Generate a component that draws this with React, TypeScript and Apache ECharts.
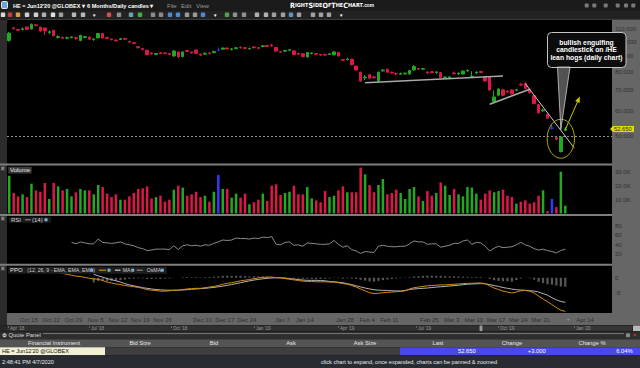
import React, { useEffect, useRef } from 'react';
import * as echarts from 'echarts';

const FONT = '"Liberation Sans", Arial, sans-serif';

// ---------------- categories ----------------
const FIRST_SESSION = '2019-10-08';
const HOLIDAYS = ['2019-11-28', '2019-12-25', '2020-01-01', '2020-01-20', '2020-02-17'];
const SESSION_COUNT = 136;
const MONTHS = ['Jan', 'Feb', 'Mar', 'Apr', 'May', 'Jun', 'Jul', 'Aug', 'Sep', 'Oct', 'Nov', 'Dec'];
const LABELED_DATES = ['Oct 15', 'Oct 22', 'Oct 29', 'Nov 5', 'Nov 12', 'Nov 19', 'Nov 26', 'Dec 10', 'Dec 17', 'Dec 24',
  'Jan 7', 'Jan 14', 'Jan 28', 'Feb 4', 'Feb 11', 'Feb 25', 'Mar 3', 'Mar 10', 'Mar 17', 'Mar 24', 'Mar 31', 'Apr 14'];

// ---------------- daily candles (HE Jun'20) ----------------
const OPEN = [101.0, 110.8, 109.6, 109.6, 111.6, 110.0, 113.4, 111.6, 110.8, 107.2,
  109.0, 103.4, 103.4, 102.8, 103.2, 103.2, 101.0, 103.4, 103.6, 101.8,
  103.0, 106.5, 103.4, 102.2, 101.4, 101.8, 102.6, 100.4, 99.4, 96.6,
  95.2, 94.0, 92.2, 91.2, 92.4, 92.2, 91.8, 90.2, 92.9, 89.7,
  93.8, 92.8, 94.2, 91.4, 91.4, 92.2, 92.4, 94.2, 94.8, 95.6,
  94.6, 95.2, 96.2, 95.8, 95.0, 96.4, 95.8, 96.6, 97.4, 97.8,
  96.0, 93.2, 93.4, 94.0, 93.6, 91.8, 91.6, 89.5, 91.8, 91.8,
  91.2, 91.2, 91.2, 91.0, 92.5, 87.8, 87.8, 88.0, 83.7, 80.0,
  76.8, 78.5, 77.3, 75.0, 80.8, 81.8, 80.0, 79.3, 78.8, 79.0,
  79.0, 81.3, 82.2, 81.8, 80.0, 80.3, 79.8, 79.8, 76.8, 76.8,
  79.5, 79.0, 79.0, 80.7, 77.2, 79.6, 80.4, 77.4, 77.4, 64.5,
  67.5, 70.2, 69.6, 70.2, 70.0, 73.2, 73.5, 70.5, 67.3, 63.0,
  60.2, 58.6, 53.0, 49.4, 44.6, 52.1];
const HIGH = [107.8, 111.6, 110.2, 111.2, 112.0, 114.4, 114.2, 112.0, 111.2, 108.8,
  109.4, 105.0, 104.0, 104.0, 104.2, 103.6, 105.4, 104.6, 104.2, 102.8,
  106.8, 106.9, 103.8, 102.6, 101.8, 103.0, 103.0, 100.8, 99.8, 97.0,
  95.8, 94.4, 92.8, 92.2, 92.8, 92.6, 92.4, 94.2, 93.4, 93.2,
  94.2, 93.2, 94.6, 91.8, 92.4, 92.8, 93.8, 96.0, 96.0, 96.0,
  95.6, 96.2, 96.8, 96.2, 95.8, 96.8, 96.2, 97.6, 97.8, 98.6,
  96.4, 93.6, 94.4, 95.0, 94.0, 92.4, 92.0, 92.8, 92.6, 92.2,
  91.6, 91.8, 92.0, 93.4, 92.9, 88.2, 89.0, 88.4, 84.0, 80.4,
  78.4, 78.9, 77.8, 80.4, 81.8, 82.2, 80.4, 79.8, 79.8, 79.8,
  81.4, 84.4, 82.6, 82.6, 80.6, 80.6, 80.6, 80.2, 77.8, 77.6,
  80.4, 79.8, 81.0, 81.6, 80.6, 80.4, 80.8, 77.8, 77.8, 70.0,
  71.0, 70.8, 70.0, 70.6, 70.8, 73.8, 74.4, 71.0, 67.6, 63.3,
  61.2, 58.9, 54.5, 49.8, 49.9, 53.4];
const LOW = [100.2, 109.5, 108.4, 108.8, 109.2, 109.8, 112.2, 108.0, 105.2, 105.8,
  104.2, 102.6, 102.2, 102.0, 102.6, 101.6, 100.6, 102.8, 101.6, 100.8,
  102.8, 102.6, 102.2, 101.2, 100.4, 101.4, 101.6, 99.4, 98.4, 95.4,
  94.0, 90.6, 91.0, 90.8, 91.4, 91.4, 90.6, 89.6, 88.8, 89.4,
  92.8, 91.8, 91.6, 90.0, 91.0, 91.2, 92.0, 93.4, 94.4, 94.6,
  94.0, 94.8, 95.2, 94.8, 94.6, 95.4, 94.8, 96.2, 96.4, 96.6,
  93.0, 92.2, 93.0, 93.6, 90.8, 91.0, 89.4, 89.2, 91.2, 91.0,
  90.2, 90.4, 90.8, 90.6, 89.8, 87.0, 87.2, 84.2, 81.0, 74.6,
  75.6, 76.0, 76.4, 74.6, 80.4, 79.6, 79.2, 78.4, 78.4, 78.8,
  78.6, 81.0, 81.4, 81.4, 79.2, 79.4, 79.0, 76.6, 76.4, 76.6,
  78.8, 78.6, 78.6, 80.4, 76.8, 79.2, 79.4, 74.6, 69.8, 64.0,
  67.0, 67.0, 68.8, 67.8, 69.6, 72.4, 70.6, 68.4, 63.2, 59.0,
  59.8, 56.7, 52.4, 48.4, 44.3, 51.8];
const CLOSE = [106.6, 110.3, 109.0, 110.2, 109.6, 114.0, 112.8, 108.4, 108.4, 107.8,
  104.6, 104.0, 102.8, 103.2, 103.8, 102.6, 105.0, 104.0, 102.0, 102.2,
  106.5, 103.0, 102.8, 101.6, 100.8, 102.4, 102.0, 99.8, 98.8, 95.8,
  94.6, 91.0, 91.6, 91.8, 91.8, 91.8, 91.2, 93.5, 89.7, 92.9,
  93.2, 92.2, 92.0, 90.8, 92.0, 91.8, 93.2, 94.2, 95.6, 95.0,
  95.0, 95.8, 95.8, 95.4, 95.4, 95.8, 95.4, 97.2, 96.8, 97.2,
  93.5, 92.8, 93.9, 94.4, 91.0, 91.4, 89.7, 92.5, 92.2, 91.4,
  90.8, 90.8, 91.6, 92.9, 90.2, 87.4, 88.2, 84.6, 81.3, 75.0,
  77.2, 76.5, 76.8, 80.0, 81.3, 80.0, 79.6, 79.0, 79.2, 79.4,
  81.0, 83.4, 81.8, 82.2, 79.6, 79.8, 80.2, 77.0, 77.2, 77.3,
  79.1, 79.5, 80.7, 81.2, 77.6, 80.1, 79.8, 75.0, 70.2, 66.7,
  70.7, 67.5, 69.2, 68.2, 70.3, 72.8, 71.0, 68.8, 63.5, 59.3,
  60.6, 57.0, 53.0, 48.8, 49.65, 52.65];
const UNCHANGED_SESSIONS = [47, 122];

// volume in thousands of contracts
const VOLUME_K = [27.6, 15, 12.5, 14, 12, 21.8, 16.9, 15.9, 22.3, 10.6,
  22.3, 19.8, 16.9, 17.9, 12.5, 15.5, 17.9, 16.9, 16.9, 14,
  20.8, 19.3, 14.5, 12, 14, 10.1, 10.1, 12.5, 15, 17.9,
  18.4, 19.8, 11, 12, 13, 8.6, 10.1, 17.4, 20.3, 18.9,
  13, 14, 15.9, 12, 13, 8.6, 15.9, 28.1, 17.9, 17.9,
  11.6, 14.5, 11.6, 14.5, 6.7, 8.2, 10.1, 14.5, 9.1, 20.3,
  21.3, 13.5, 15, 15.9, 20.3, 14, 14, 19.3, 11, 9.6,
  8.2, 16.4, 12, 13, 16.9, 19.8, 15.5, 15.5, 15.5, 33.5,
  28.6, 20.8, 15.5, 20.8, 25.2, 14, 15, 17.4, 15, 10.6,
  17.9, 19.3, 12.5, 9.1, 16.4, 13, 15, 22.7, 20.3, 13.5,
  17.9, 14, 12.5, 19.3, 18.9, 14.5, 10.1, 14.5, 16.9, 15.5,
  16.4, 17.4, 13, 12, 7.2, 8.6, 9.6, 7.2, 8.2, 13,
  16.9, 1.8, 10.6, 4.7, 30.5, 5.7];

// RSI(14), from session 14
const RSI_START = 14;
const RSI_14 = [45, 42, 46, 44, 42, 42, 52, 45, 44, 43, 44, 46, 42, 40, 38, 34, 32, 28, 29, 31,
  31, 31, 30, 38, 30, 38, 40, 38, 39, 37, 40, 39, 43, 46, 50, 49, 50, 54, 53, 53,
  52, 54, 53, 56, 55, 57, 41, 40, 45, 46, 39, 40, 37, 44, 43, 42, 41, 41, 42, 49,
  41, 35, 38, 30, 27, 22, 26, 25, 24, 37, 39, 37, 36, 36, 37, 37, 42, 48, 46, 46,
  41, 42, 42, 35, 37, 39, 43, 43, 48, 50, 41, 45, 44, 37, 27, 33, 37, 34, 35, 36,
  40, 45, 40, 37, 32, 29, 31, 28, 26, 23, 28, 31];

// PPO (12, 26, 9)
const PPO_START = 11;
const PPO_LINE = [1.7, 1.4, 1.1, 0.8, 0.5, 0.4, 0.1, -0.2, -0.4, -0.5,
  -0.9, -1.4, -1.7, -2.0, -2.2, -2.5, -2.7, -2.9, -3.1, -3.4,
  -3.8, -4.0, -4.1, -4.3, -4.3, -4.2, -4.0, -4.0, -3.8, -3.6,
  -3.5, -3.4, -3.4, -3.2, -3.0, -2.8, -2.5, -2.1, -1.8, -1.6,
  -1.3, -1.0, -0.8, -0.6, -0.3, -0.1, 0.1, 0.2, 0.2, 0.0,
  -0.1, -0.3, -0.5, -0.7, -0.9, -1.1, -1.2, -1.2, -1.3, -1.3,
  -1.3, -1.4, -1.4, -1.6, -1.9, -2.1, -2.5, -3.0, -3.6, -4.2,
  -4.8, -5.1, -5.0, -4.8, -4.7, -4.6, -4.5, -4.4, -4.2, -3.6,
  -3.2, -3.0, -2.8, -2.6, -2.5, -2.4, -2.3, -2.3, -2.2, -2.1,
  -2.0, -1.9, -1.8, -1.8, -1.7, -1.7, -1.9, -2.6, -3.3, -3.8,
  -4.3, -4.6, -4.9, -4.6, -4.2, -4.1, -4.3, -4.9, -5.9, -6.8,
  -7.7, -8.6, -9.6, -10.4, -10.8];
const SIGNAL_START = 19;
const PPO_MA = [1.1, 0.6, 0.2, -0.3, -0.6, -1.0, -1.4, -1.9, -2.3, -2.6,
  -2.9, -3.2, -3.4, -3.6, -3.8, -3.9, -4.0, -4.0, -4.05, -4.0,
  -3.95, -3.85, -3.7, -3.6, -3.5, -3.4, -3.25, -3.1, -2.9, -2.7,
  -2.45, -2.2, -1.9, -1.6, -1.3, -1.0, -0.75, -0.55, -0.35, -0.2,
  -0.1, 0.0, 0.0, -0.1, -0.3, -0.45, -0.6, -0.75, -0.85, -0.85,
  -0.85, -0.9, -1.0, -1.2, -1.3, -1.45, -1.6, -1.9, -2.2, -2.6,
  -2.95, -3.3, -3.6, -3.85, -4.0, -4.05, -4.1, -4.2, -4.25, -4.25,
  -4.1, -3.8, -3.6, -3.5, -3.4, -3.3, -3.15, -3.0, -2.9, -2.8,
  -2.65, -2.55, -2.4, -2.25, -2.1, -2.0, -1.95, -1.9, -1.95, -2.2,
  -2.5, -2.8, -3.15, -3.4, -3.65, -3.85, -3.95, -4.05, -4.15, -4.3,
  -4.6, -5.1, -5.6, -6.4, -7.1, -7.6, -7.9];
const PPO_OSMA = [-1.5, -1.1, -1.1, -1.1, -1.1, -1.0, -0.8, -0.6, -0.4, -0.3,
  -0.2, -0.2, -0.4, -0.4, -0.3, -0.4, -0.3, -0.2, 0.05, 0.0,
  0.15, 0.25, 0.2, 0.2, 0.1, 0.2, 0.25, 0.3, 0.4, 0.6,
  0.65, 0.6, 0.6, 0.6, 0.5, 0.4, 0.45, 0.45, 0.45, 0.4,
  0.3, 0.0, -0.1, -0.2, -0.2, -0.25, -0.3, -0.35, -0.35, -0.35,
  -0.45, -0.4, -0.3, -0.2, -0.1, -0.15, -0.3, -0.2, -0.3, -0.4,
  -0.65, -0.9, -1.2, -1.25, -1.0, -0.75, -0.6, -0.4, -0.25, -0.15,
  -0.1, 0.2, 0.4, 0.5, 0.6, 0.7, 0.65, 0.6, 0.6, 0.5,
  0.45, 0.45, 0.4, 0.35, 0.3, 0.2, 0.25, 0.2, 0.05, -0.4,
  -0.8, -1.0, -1.15, -1.2, -1.25, -0.75, -0.25, -0.05, -0.15, -0.6,
  -1.3, -1.7, -2.1, -2.2, -2.5, -2.8, -2.9];

// ---------------- axes ----------------
const PRICE_TICKS = [50, 60, 70, 80, 90, 100, 110];
const PRICE_RANGE = [40.98, 116.68];
const VOLUME_TICKS = [10, 20, 30];
const VOLUME_MAX = 33.94;
const RSI_TICKS = [20, 40, 60, 80];
const PPO_TICKS = [-5, 0];
const PPO_RANGE = [-11.31, 3.75];
const LAST_PRICE = 52.65;
const SUPPORT_LEVEL = 50;

// ---------------- annotations (session index, price) ----------------
const TRENDLINES = [
  [80, 74.0, 111, 77.85],
  [108, 63.2, 117, 70.6],
  [116, 73.6, 127, 45.8],
];
const UP_ARROW = [125, 52.4, 128, 65.5];
const ELLIPSE_CENTER = [124, 49.0];
const CALLOUT_TIP = [124, 52.4];
const CALLOUT_LINES = ['bullish engulfing', 'candlestick on /HE', 'lean hogs (daily chart)'];

const UP = '#22a822';
const DOWN = '#dc1848';
const FLAT = '#3636ff';
const AXIS_BAND = '#666666';
const AXIS_TEXT = '#303030';

function buildSessions(): string[] {
  const out: string[] = [];
  const d = new Date(FIRST_SESSION + 'T00:00:00Z');
  while (out.length < SESSION_COUNT) {
    const dow = d.getUTCDay();
    const iso = d.toISOString().slice(0, 10);
    if (dow !== 0 && dow !== 6 && HOLIDAYS.indexOf(iso) < 0) {
      out.push(MONTHS[d.getUTCMonth()] + ' ' + d.getUTCDate());
    }
    d.setUTCDate(d.getUTCDate() + 1);
  }
  return out;
}

function pad(start: number, values: number[]) {
  const out: (number | null)[] = [];
  for (let i = 0; i < start; i++) out.push(null);
  return out.concat(values);
}

function sessionColor(i: number) {
  if (UNCHANGED_SESSIONS.indexOf(i) >= 0) return FLAT;
  return CLOSE[i] >= OPEN[i] ? UP : DOWN;
}

function buildOption() {
  const sessions = buildSessions();
  const L = Math.log;
  const candles = OPEN.map((o, i) => {
    const v = [L(o), L(CLOSE[i]), L(LOW[i]), L(HIGH[i])];
    if (UNCHANGED_SESSIONS.indexOf(i) >= 0) {
      return { value: v, itemStyle: { color: FLAT, color0: FLAT, borderColor: FLAT, borderColor0: FLAT } };
    }
    return v;
  });
  const volume = VOLUME_K.map((v, i) => ({ value: v, itemStyle: { color: sessionColor(i) } }));

  const grids = [
    { left: 7, width: 605, top: 21, height: 142 },
    { left: 7, width: 605, top: 167, height: 46.5 },
    { left: 7, width: 605, top: 216, height: 48 },
    { left: 7, width: 605, top: 266, height: 47 },
  ];
  const xAxes = grids.map((_, gi) => ({
    type: 'category', gridIndex: gi, data: sessions, boundaryGap: true,
    axisLine: { show: false }, axisTick: { show: false }, splitLine: { show: false },
    axisLabel: gi === 3 ? {
      show: true, fontSize: 6, color: AXIS_TEXT, fontFamily: FONT, margin: 4,
      padding: [0, 5, 0, 0],
      interval: (idx: number, val: string) => LABELED_DATES.indexOf(val) >= 0,
    } : { show: false },
  }));
  const yLabel = (vals: number[], fmt: (v: number) => string) => ({
    show: true, customValues: vals, formatter: fmt, fontSize: 6, color: AXIS_TEXT,
    fontFamily: FONT, margin: 3, align: 'left',
  });
  const yBase = { position: 'right', axisLine: { show: false }, axisTick: { show: false }, splitLine: { show: false } };
  const yAxes = [
    { ...yBase, type: 'value', gridIndex: 0, min: L(PRICE_RANGE[0]), max: L(PRICE_RANGE[1]),
      axisLabel: yLabel(PRICE_TICKS.map(L), (v: number) => Math.exp(v).toFixed(3)) },
    { ...yBase, type: 'value', gridIndex: 1, min: 0, max: VOLUME_MAX,
      axisLabel: yLabel(VOLUME_TICKS, (v: number) => v.toFixed(1) + 'K') },
    { ...yBase, type: 'value', gridIndex: 2, min: 0, max: 100,
      axisLabel: yLabel(RSI_TICKS, (v: number) => String(v)) },
    { ...yBase, type: 'value', gridIndex: 3, min: PPO_RANGE[0], max: PPO_RANGE[1],
      axisLabel: yLabel(PPO_TICKS, (v: number) => String(v)) },
  ];

  const trend = TRENDLINES.map((t, k) => [
    { coord: [t[0], L(t[1])], lineStyle: { color: k === 2 ? '#c8c8c8' : '#a8a8a8', width: k === 2 ? 1 : 1.5, type: 'solid' } },
    { coord: [t[2], L(t[3])] },
  ]);

  return {
    animation: false,
    backgroundColor: '#000',
    grid: grids,
    xAxis: xAxes,
    yAxis: yAxes,
    series: [
      {
        type: 'candlestick', xAxisIndex: 0, yAxisIndex: 0, barWidth: 3,
        itemStyle: { color: UP, color0: DOWN, borderColor: UP, borderColor0: DOWN, borderWidth: 1 },
        data: candles,
        markLine: {
          silent: true, animation: false, symbol: ['none', 'none'],
          label: { show: false },
          data: [
            { yAxis: L(SUPPORT_LEVEL), lineStyle: { color: '#8e8e8e', type: [2, 2], width: 1 } },
            ...trend,
            [
              { coord: [UP_ARROW[0], L(UP_ARROW[1])], symbol: 'none', lineStyle: { color: '#c9c900', width: 1, type: 'solid' } },
              { coord: [UP_ARROW[2], L(UP_ARROW[3])], symbol: 'triangle', symbolSize: [5, 6], itemStyle: { color: '#c9c900' } },
            ],
          ],
        },
      },
      { type: 'bar', xAxisIndex: 1, yAxisIndex: 1, barWidth: 2.5, data: volume },
      {
        type: 'line', xAxisIndex: 2, yAxisIndex: 2, showSymbol: false, symbol: 'none',
        lineStyle: { color: '#8a8a8a', width: 1 }, data: pad(RSI_START, RSI_14),
      },
      {
        type: 'bar', xAxisIndex: 3, yAxisIndex: 3, barWidth: 2.2,
        itemStyle: { color: '#575757' }, data: pad(SIGNAL_START, PPO_OSMA),
      },
      {
        type: 'line', xAxisIndex: 3, yAxisIndex: 3, showSymbol: false, symbol: 'none',
        lineStyle: { color: '#b4b4b4', width: 1 }, data: pad(SIGNAL_START, PPO_MA),
      },
      {
        type: 'line', xAxisIndex: 3, yAxisIndex: 3, showSymbol: false, symbol: 'none',
        lineStyle: { color: '#d8890e', width: 1 }, data: pad(PPO_START, PPO_LINE),
      },
    ],
  };
}

// ---------------- chrome (application frame) ----------------
const TOOLBAR_ICONS: [number, string][] = [[3, '#d9d9d9'], [10, '#c04040'], [18, '#d8a040'], [27, '#d0d0d0'], [36, '#d0d0d0'],
  [44, '#b0b0b0'], [53, '#e0e0e0'], [61, '#a0a0a0'], [74, '#b8b8b8'], [83, '#b8b8b8'], [109, '#d05050'], [119, '#909090'],
  [131, '#70a0b0'], [140, '#40b040'], [153, '#8a8a8a'], [161, '#8a8a8a'], [170, '#4a8ad0'], [178, '#4a8ad0'], [187, '#9a9a9a'],
  [195, '#9a9a9a'], [203, '#4a8ad0'], [227, '#50a050'], [235, '#909090'], [244, '#909090'], [257, '#b0b0b0'], [266, '#b0b0b0'],
  [274, '#a0a0a0'], [283, '#a0a0a0'], [291, '#6090c0'], [299, '#a0a0a0'], [313, '#a0a0a0'], [321, '#a0a0a0'], [329, '#a0a0a0']];
const TOOLBAR_MENUS = [94, 215, 341];
const WINDOW_ICONS = [586.7, 594.3, 605.7, 617.7, 626, 633.3];
const NAVIGATOR_LABELS: [string, number][] = [["Apr '18", 10], ["Jul '18", 91], ["Oct '18", 173], ["Jan '19", 256],
  ["Apr '19", 340], ["Jul '19", 418], ["Oct '19", 500], ["Jan '20", 576]];
const QUOTE_HEADERS: [string, number][] = [['Financial Instrument', 54], ['Bid Size', 140], ['Bid', 214], ['Ask', 291],
  ['Ask Size', 365], ['Last', 438], ['Change', 512], ['Change %', 592]];
const QUOTE_VALUES: [string, number][] = [['52.650', 475.7], ['+3.000', 545.7], ['6.04%', 632.7]];

function rect(x: number, y: number, w: number, h: number, fill: string, z = -10, r = 0, stroke?: string) {
  return { type: 'rect', silent: true, z, shape: { x, y, width: w, height: h, r }, style: stroke ? { fill, stroke, lineWidth: 1 } : { fill } };
}
function text(x: number, y: number, t: string, extra: any = {}, z = 20) {
  return {
    type: 'text', silent: true, z, x, y,
    style: { text: t, fill: '#dddddd', fontSize: 6, fontFamily: FONT, align: 'left', verticalAlign: 'middle', ...extra },
  };
}
function seg(x1: number, y1: number, x2: number, y2: number, stroke: string, lineWidth = 1, z = 20) {
  return { type: 'line', silent: true, z, shape: { x1, y1, x2, y2 }, style: { stroke, lineWidth } };
}

function buildGraphics(ell: number[], tip: number[], lastY: number) {
  const g: any[] = [];
  // frame backgrounds
  g.push(rect(0, 0, 640, 11, '#1b1b1b'));
  g.push(rect(0, 11, 640, 8.5, '#222222'));
  g.push(rect(7, 19, 605, 1, '#3a3a3a'));
  g.push(rect(0, 19.5, 7, 306, '#2c2c2c'));
  g.push(rect(612, 19.5, 28, 294, AXIS_BAND));
  g.push(rect(0, 163.5, 612, 2, '#7e7e7e'));
  g.push(rect(0, 214, 612, 2, '#7e7e7e'));
  g.push(rect(0, 263.7, 612, 2, '#7e7e7e'));
  g.push(rect(7, 313, 633, 12.3, AXIS_BAND));
  g.push(rect(0, 325.3, 640, 6.2, '#262626'));
  g.push(rect(7, 325.8, 472, 5, '#303030'));
  g.push(rect(483, 325.8, 149, 5, '#363636'));
  g.push(rect(479.5, 325.5, 3, 5.6, '#9a9a9a'));
  g.push(rect(633, 325.5, 7, 5.6, '#b8b8b8'));
  g.push(rect(0, 331.5, 640, 7.8, '#2e2e2e'));
  g.push(rect(0, 339.3, 640, 8, '#545454'));
  g.push(rect(0, 347.3, 105.3, 8, '#f2f0d4'));
  g.push(rect(105.3, 347.3, 294.7, 8, '#3e3e3e'));
  g.push(rect(400, 347.3, 240, 8, '#4a4ae2'));
  g.push(rect(0, 355.3, 640, 12.7, '#282c32'));

  // title bar
  g.push(rect(1.5, 1.5, 6, 7, '#6aa6d8', 5, 1, '#e8e8e8'));
  g.push(text(13, 5.7, "HE = Jun12'20 @GLOBEX ▾", { fill: '#ffffff', fontWeight: 'bold', fontSize: 5.5 }));
  g.push(text(87, 5.7, '6 Months/Daily candles ▾', { fill: '#ffffff', fontWeight: 'bold', fontSize: 5.6 }));
  g.push(text(167, 5.7, 'File', { fill: '#9a9a9a', fontSize: 6 }));
  g.push(text(181, 5.7, 'Edit', { fill: '#9a9a9a', fontSize: 6 }));
  g.push(text(196, 5.7, 'View', { fill: '#9a9a9a', fontSize: 6 }));
  g.push({
    type: 'text', silent: true, z: 20, x: 290, y: 5,
    style: {
      text: '{b|R}{s|IGHT}{b|S}{s|IDE}{b|O}{s|F}{b|T}{s|HE}{b|C}{s|HART}{c|.com}',
      verticalAlign: 'middle', align: 'left',
      rich: {
        b: { fontSize: 7.2, fontWeight: 'bold', fill: '#ffffff', fontFamily: '"DejaVu Sans Condensed", "DejaVu Sans", sans-serif' },
        s: { fontSize: 5.5, fontWeight: 'bold', fill: '#ffffff', fontFamily: '"DejaVu Sans Condensed", "DejaVu Sans", sans-serif' },
        c: { fontSize: 4.8, fontWeight: 'bold', fill: '#ffffff', fontFamily: FONT },
      },
    },
  });
  WINDOW_ICONS.forEach((x) => g.push(rect(x - 2, 3.5, 4, 4, '#7a7a7a', 5, 1)));
  // toolbar
  TOOLBAR_ICONS.forEach(([x, c]) => g.push(rect(x - 2.2, 12.6, 4.4, 4.4, c, 5, 0.8)));
  TOOLBAR_MENUS.forEach((x) => g.push(text(x - 2, 15, '▼', { fill: '#ffffff', fontSize: 4.5 })));

  // panel titles
  [168.5, 218.5, 268.5].forEach((y) => {
    g.push(rect(0.8, y - 2.2, 4.4, 4.4, '#4a4a4a', 5));
    g.push(text(1.6, y, 'x', { fill: '#e0e0e0', fontSize: 4.5 }));
  });
  g.push(rect(8.3, 166.7, 23.4, 6.8, '#3a3a3a', 5));
  g.push(text(10, 170.1, 'Volume', { fill: '#e6e6e6' }));
  g.push(rect(9, 216.8, 42, 6, '#1a1a1a', 5));
  g.push(text(11, 219.8, 'RSI', { fill: '#d8d8d8' }));
  g.push(seg(25, 219.8, 30.7, 219.8, '#9a9a9a'));
  g.push(text(32, 219.8, '(14)', { fill: '#d8d8d8' }));
  g.push(rect(44.5, 218.3, 3, 3, '#7ab0e0', 20));
  g.push(rect(8.3, 266.7, 158.4, 7, '#1e1e1e', 5));
  g.push(text(10, 270.2, 'PPO', { fill: '#e0e0e0' }));
  g.push(text(27.3, 270.2, '(12, 26, 9 - EMA, EMA, EMA)', { fill: '#d0d0d0', fontSize: 5.2 }));
  g.push(rect(90.2, 268.7, 3, 3, '#7ab0e0', 20));
  g.push(seg(99, 270.2, 106, 270.2, '#d8890e', 1.2));
  g.push(rect(107.5, 268.7, 3, 3, '#7ab0e0', 20));
  g.push(seg(115, 270.2, 120.5, 270.2, '#d0d0d0', 1.2));
  g.push(text(122.7, 270.2, 'MA', { fill: '#d0d0d0', fontSize: 5.2 }));
  g.push(rect(131.2, 268.7, 3, 3, '#7ab0e0', 20));
  g.push(seg(136.7, 270.2, 142.7, 270.2, '#8a8a8a', 1.2));
  g.push(text(146.7, 270.2, 'OsMA', { fill: '#d0d0d0', fontSize: 5.2 }));
  g.push(rect(160.8, 268.7, 3, 3, '#7ab0e0', 20));

  // last price marker on the price axis
  g.push({
    type: 'polygon', silent: true, z: 30,
    shape: { points: [[610, lastY], [613, lastY - 3], [613, lastY + 3]] },
    style: { fill: '#dede00' },
  });
  g.push(rect(612.7, lastY - 3, 21.3, 6, '#dede00', 30));
  g.push(text(614, lastY, LAST_PRICE.toFixed(3), { fill: '#2a2a2a', fontSize: 5.8 }, 31));

  // date band extras / navigator
  g.push(text(568.3, 319.3, '+', { fill: '#9a9a9a', fontSize: 6, align: 'center' }));
  NAVIGATOR_LABELS.forEach(([t, x]) => {
    g.push(seg(x - 1.5, 326, x - 1.5, 328, '#8a8a8a', 0.6));
    g.push(text(x, 328.6, t, { fill: '#9a9a9a', fontSize: 4.6 }));
  });

  // quote panel
  g.push({ type: 'circle', silent: true, z: 20, shape: { cx: 4.5, cy: 335.3, r: 2 }, style: { fill: '#d0d0d0' } });
  g.push(seg(3.3, 335.3, 5.7, 335.3, '#2e2e2e', 0.8, 21));
  g.push(text(8.5, 335.3, 'Quote Panel', { fill: '#d8d8d8', fontSize: 5.8 }));
  g.push(seg(43, 333.6, 624, 333.6, '#8a8a8a', 0.8));
  g.push(rect(626, 333.2, 4, 4, '#8a8a8a', 5, 1));
  g.push(text(634.5, 335.3, '×', { fill: '#e03030', fontSize: 6, align: 'center', fontWeight: 'bold' }));
  QUOTE_HEADERS.forEach(([t, x]) => g.push(text(x, 343.3, t, { fill: '#e6e6e6', fontSize: 5.8, align: 'center' })));
  g.push(text(2, 351.4, "HE = Jun12'20 @GLOBEX", { fill: '#111111', fontSize: 5.6 }));
  QUOTE_VALUES.forEach(([t, x]) => g.push(text(x, 351.4, t, { fill: '#ffffff', fontSize: 5.8, align: 'right' })));

  // status bar
  g.push(text(2, 362.3, '2:48:41 PM 4/7/2020', { fill: '#e8e8e8', fontSize: 5.6 }));
  g.push(text(321, 362.3, 'click chart to expand, once expanded, charts can be panned & zoomed', { fill: '#e8e8e8', fontSize: 5.6 }));

  // annotation ellipse
  g.push({
    type: 'ellipse', silent: true, z: 50,
    shape: { cx: ell[0], cy: ell[1], rx: 13.7, ry: 19.5 },
    style: { fill: 'none', stroke: '#a9a900', lineWidth: 1 },
  });
  // callout
  g.push(rect(547.5, 32.5, 78.5, 35, '#0c0c0c', 100, 4, '#c4c4c4'));
  g.push({
    type: 'polygon', silent: true, z: 101,
    shape: { points: [[557.5, 67], [570, 67], [tip[0], tip[1]]] },
    style: { fill: 'rgba(150,150,150,0.55)', stroke: '#e2e2e2', lineWidth: 0.7 },
  });
  CALLOUT_LINES.forEach((t, k) => g.push(text(586.5, 42 + k * 7.7, t, {
    fill: '#ffffff', fontWeight: 'bold', fontSize: 6.8, align: 'center',
  }, 102)));
  return g;
}

export default function App() {
  const ref = useRef<HTMLDivElement>(null);
  useEffect(() => {
    if (!ref.current) return;
    const chart = echarts.init(ref.current, null, { renderer: 'svg', width: 640, height: 368 });
    chart.setOption(buildOption() as any);
    const ell = chart.convertToPixel({ gridIndex: 0 } as any, [ELLIPSE_CENTER[0], Math.log(ELLIPSE_CENTER[1])]) as number[];
    const tip = chart.convertToPixel({ gridIndex: 0 } as any, [CALLOUT_TIP[0], Math.log(CALLOUT_TIP[1])]) as number[];
    const last = chart.convertToPixel({ gridIndex: 0 } as any, [0, Math.log(LAST_PRICE)]) as number[];
    chart.setOption({ graphic: buildGraphics(ell, tip, last[1]) } as any);
    return () => chart.dispose();
  }, []);
  return <div ref={ref} style={{ position: 'fixed', left: 0, top: 0, width: 640, height: 368 }} />;
}
